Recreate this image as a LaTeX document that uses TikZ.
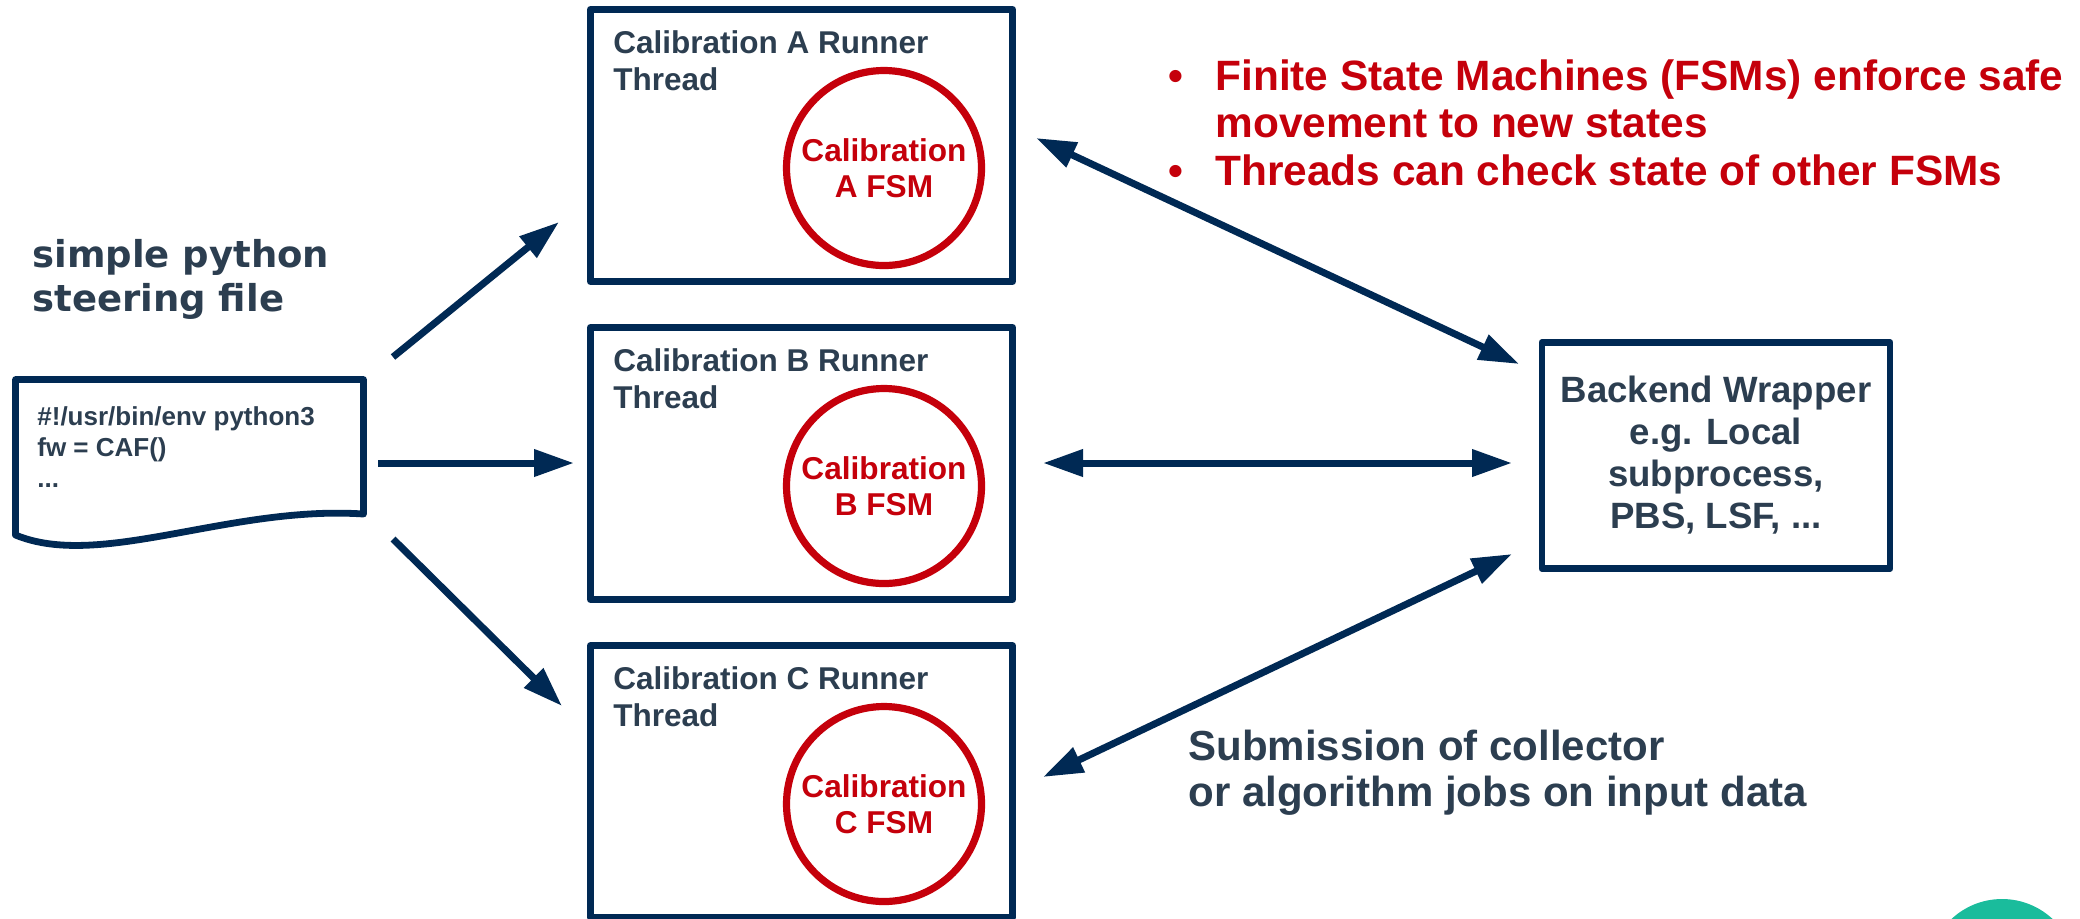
\documentclass[tikz,border=0pt]{standalone}
\usepackage{fontspec}
\setmainfont{Liberation Sans}
\newfontfamily\dejavu{DejaVu Sans}
\usepackage{tikz}
\usetikzlibrary{arrows.meta}
\definecolor{navy}{RGB}{0, 41, 84}
\definecolor{slate}{RGB}{44, 62, 80}
\definecolor{fsmred}{RGB}{197, 0, 11}
\definecolor{sea}{RGB}{26, 188, 156}

\begin{document}
\begin{tikzpicture}[x=0.5pt, y=-0.5pt,
  runner/.style={draw=navy, line width=3.4pt, line join=round, minimum width=211pt, minimum height=136pt, inner sep=0},
  fsm/.style={circle, draw=fsmred, line width=3.6pt, minimum size=97.5pt, inner sep=0, text=fsmred, align=center, font=\bfseries\fontsize{15.8pt}{18pt}\selectfont},
  title/.style={anchor=base west, inner sep=0, text=slate, align=left, font=\bfseries\fontsize{15.75pt}{18.5pt}\selectfont},
  link/.style={navy, line width=3.5pt, >={Triangle[length=20pt, width=13pt]}}]

  \clip (0, 0) rectangle (2080, 918);
  \fill[white] (0, 0) rectangle (2080, 918);

  % steering file (nodes sit on the baseline of their last line)
  \node[title, font=\dejavu\bfseries\fontsize{18.5pt}{22pt}\selectfont] (steer) at (32, 311) {simple python\\steering file};
  \draw[navy, line width=3.4pt, line join=round] (15.5, 535) -- (15.5, 379.5) -- (363.5, 379.5) -- (363.5, 514)
    .. controls (230, 505) and (100, 570) .. (15.5, 535) -- cycle;
  \node[title, font=\bfseries\fontsize{13pt}{15.5pt}\selectfont] (code) at (37, 487) {\#!/usr/bin/env python3\\fw = CAF()\\...};

  % runner threads
  \foreach \lbl/\yy in {A/0, B/318, C/636} {
    \node[runner] (run\lbl) at (801.5, {145.5+\yy}) {};
    \node[title] (title\lbl) at (613, {90+\yy}) {Calibration \lbl\ Runner\\Thread};
    \node[fsm] (fsm\lbl) at (884, {168+\yy}) {Calibration\\\lbl\ FSM};
  }

  \node[runner, minimum width=174pt, minimum height=113pt, text=slate, align=center,
    font=\bfseries\fontsize{18.3pt}{21pt}\selectfont] (backend) at (1716, 455.5)
    {Backend Wrapper\\e.g. Local\\subprocess,\\PBS, LSF, ...};

  \node[title, text=fsmred, font=\bfseries\fontsize{21.2pt}{23.75pt}\selectfont] (notes) at (1168, 185)
    {\makebox[23.5pt][l]{\textbullet}Finite State Machines (FSMs) enforce safe\\
     \makebox[23.5pt][l]{}movement to new states\\
     \makebox[23.5pt][l]{\textbullet}Threads can check state of other FSMs};

  \node[title, font=\bfseries\fontsize{21pt}{23pt}\selectfont] (jobs) at (1188, 806)
    {Submission of collector\\or algorithm jobs on input data};

  % arrow ends
  \coordinate (outA) at (393, 357);
  \coordinate (outB) at (378, 463);
  \coordinate (outC) at (393, 539);
  \coordinate (inA) at (559, 222);
  \coordinate (inB) at (574, 463);
  \coordinate (inC) at (562, 706);
  \coordinate (sideA) at (1036, 138);
  \coordinate (sideB) at (1043, 463);
  \coordinate (sideC) at (1043, 777);
  \coordinate (endA) at (1519, 364);
  \coordinate (endB) at (1512, 463);
  \coordinate (endC) at (1512, 554);

  \foreach \lbl in {A, B, C} {
    \draw[link, ->] (out\lbl) -- (in\lbl);
    \draw[link, <->] (side\lbl) -- (end\lbl);
  }

  \fill[sea] (2002, 973) circle[radius=37pt];

\end{tikzpicture}
\end{document}
